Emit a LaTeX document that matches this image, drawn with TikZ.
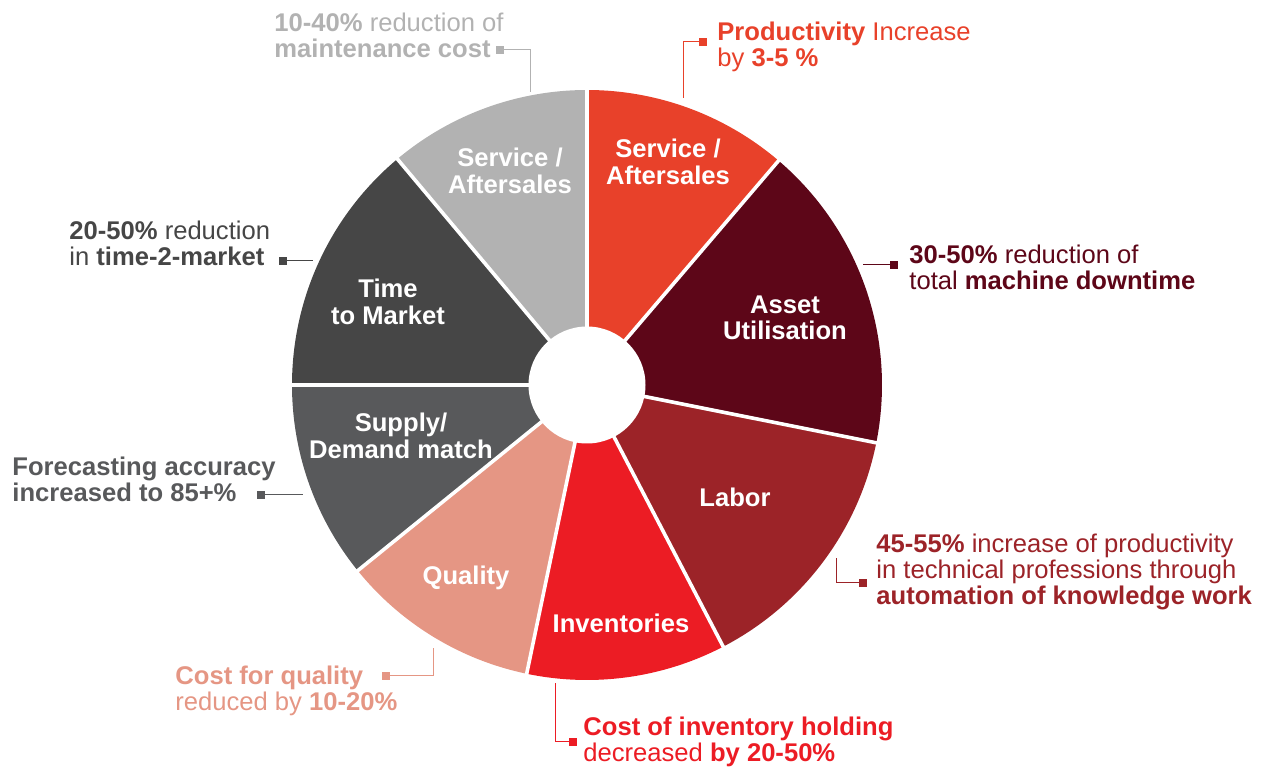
\documentclass[tikz,border=0pt]{standalone}
\usepackage{fontspec}
\setmainfont{Liberation Sans}

\definecolor{SvcGray}{HTML}{B2B2B2}
\definecolor{SvcRed}{HTML}{E8412A}
\definecolor{AssetRed}{HTML}{5D0618}
\definecolor{LaborRed}{HTML}{9C2328}
\definecolor{InvRed}{HTML}{EC1C24}
\definecolor{QualPink}{HTML}{E59684}
\definecolor{SupplyGray}{HTML}{58595B}
\definecolor{TimeGray}{HTML}{464646}

\tikzset{
  slicelabel/.style={text=white, align=center, inner sep=0pt,
    font=\fontsize{12.8}{13.3}\selectfont\bfseries},
  notetext/.style={anchor=base west, align=left, inner sep=0pt,
    font=\fontsize{12.8}{13.1}\selectfont},
  marker/.style={rectangle, minimum size=4pt, inner sep=0pt},
  leader/.style={line width=0.5pt},
  gap/.style={white, line width=1.8pt}
}

\begin{document}
\begin{tikzpicture}[x=0.5pt,y=0.5pt]
\useasboundingbox (0,0) rectangle (1266,767);
\coordinate (Centre) at (587,382);

% slices
\fill[SvcGray] (Centre) -- ++(90:295) arc[start angle=90, end angle=130, radius=295] -- cycle;
\fill[SvcRed] (Centre) -- ++(49.5:295) arc[start angle=49.5, end angle=90, radius=295] -- cycle;
\fill[AssetRed] (Centre) -- ++(-11.3:295) arc[start angle=-11.3, end angle=49.5, radius=295] -- cycle;
\fill[LaborRed] (Centre) -- ++(-62.5:295) arc[start angle=-62.5, end angle=-11.3, radius=295] -- cycle;
\fill[InvRed] (Centre) -- ++(-101.8:295) arc[start angle=-101.8, end angle=-62.5, radius=295] -- cycle;
\fill[QualPink] (Centre) -- ++(-141:295) arc[start angle=-141, end angle=-101.8, radius=295] -- cycle;
\fill[SupplyGray] (Centre) -- ++(180:295) arc[start angle=180, end angle=219, radius=295] -- cycle;
\fill[TimeGray] (Centre) -- ++(130:295) arc[start angle=130, end angle=180, radius=295] -- cycle;

% gaps between slices
\draw[gap] (Centre) -- ++(90:300) (Centre) -- ++(49.5:300)
  (Centre) -- ++(-11.3:300) (Centre) -- ++(-62.5:300)
  (Centre) -- ++(-101.8:300) (Centre) -- ++(-141:300)
  (Centre) -- ++(180:300) (Centre) -- ++(130:300);
\fill[white] (Centre) circle[radius=58.5];

% slice labels
\node[slicelabel] (SvcGrayLbl) at (510,596) {Service /\\Aftersales};
\node[slicelabel] (SvcRedLbl) at (668,605) {Service /\\Aftersales};
\node[slicelabel] (AssetLbl) at (785,449) {Asset\\Utilisation};
\node[slicelabel] (LaborLbl) at (735,270) {Labor};
\node[slicelabel] (InvLbl) at (621,144) {Inventories};
\node[slicelabel] (QualLbl) at (466,189) {Quality};
\node[slicelabel] (SupplyLbl) at (401,331) {Supply/\\Demand match};
\node[slicelabel] (TimeLbl) at (388,465) {Time\\to Market};

% notes (anchored at the baseline of their last line)
\node[notetext, text=SvcGray] (SvcGrayNote) at (274,709)
  {\textbf{10-40\%} reduction of\\\textbf{maintenance cost}};
\node[notetext, text=SvcRed] (SvcRedNote) at (717,700)
  {\textbf{Productivity} Increase\\by \textbf{3-5 \%}};
\node[notetext, text=AssetRed] (AssetNote) at (909,477)
  {\textbf{30-50\%} reduction of\\total \textbf{machine downtime}};
\node[notetext, text=LaborRed] (LaborNote) at (876,162)
  {\textbf{45-55\%} increase of productivity\\in technical professions through\\\textbf{automation of knowledge work}};
\node[notetext, text=InvRed] (InvNote) at (583,5)
  {\textbf{Cost of inventory holding}\\decreased \textbf{by 20-50\%}};
\node[notetext, text=QualPink] (QualNote) at (175,56)
  {\textbf{Cost for quality}\\reduced by \textbf{10-20\%}};
\node[notetext, text=SupplyGray] (SupplyNote) at (12,265)
  {\textbf{Forecasting accuracy}\\\textbf{increased to 85+\%}};
\node[notetext, text=TimeGray] (TimeNote) at (69,501)
  {\textbf{20-50\%} reduction\\in \textbf{time-2-market}};

% leader lines
\node[marker, fill=SvcGray] (SvcGrayMk) at (500,717) {};
\coordinate (SvcGrayBend) at (530,717);
\coordinate (SvcGrayEnd) at (530,675);
\draw[leader, SvcGray] (SvcGrayMk) -- (SvcGrayBend) -- (SvcGrayEnd);

\node[marker, fill=SvcRed] (SvcRedMk) at (703,725) {};
\coordinate (SvcRedBend) at (683,725);
\coordinate (SvcRedEnd) at (683,669);
\draw[leader, SvcRed] (SvcRedMk) -- (SvcRedBend) -- (SvcRedEnd);

\node[marker, fill=AssetRed] (AssetMk) at (894,502) {};
\coordinate (AssetEnd) at (863,502);
\draw[leader, AssetRed] (AssetMk) -- (AssetEnd);

\node[marker, fill=LaborRed] (LaborMk) at (863,184) {};
\coordinate (LaborBend) at (836,184);
\coordinate (LaborEnd) at (836,209);
\draw[leader, LaborRed] (LaborMk) -- (LaborBend) -- (LaborEnd);

\node[marker, fill=InvRed] (InvMk) at (573,25) {};
\coordinate (InvBend) at (555,25);
\coordinate (InvEnd) at (555,84);
\draw[leader, InvRed] (InvMk) -- (InvBend) -- (InvEnd);

\node[marker, fill=QualPink] (QualMk) at (386,91) {};
\coordinate (QualBend) at (433,91);
\coordinate (QualEnd) at (433,119);
\draw[leader, QualPink] (QualMk) -- (QualBend) -- (QualEnd);

\node[marker, fill=SupplyGray] (SupplyMk) at (261,272) {};
\coordinate (SupplyEnd) at (303,272);
\draw[leader, SupplyGray] (SupplyMk) -- (SupplyEnd);

\node[marker, fill=TimeGray] (TimeMk) at (283,506) {};
\coordinate (TimeEnd) at (313,506);
\draw[leader, TimeGray] (TimeMk) -- (TimeEnd);
\end{tikzpicture}
\end{document}
